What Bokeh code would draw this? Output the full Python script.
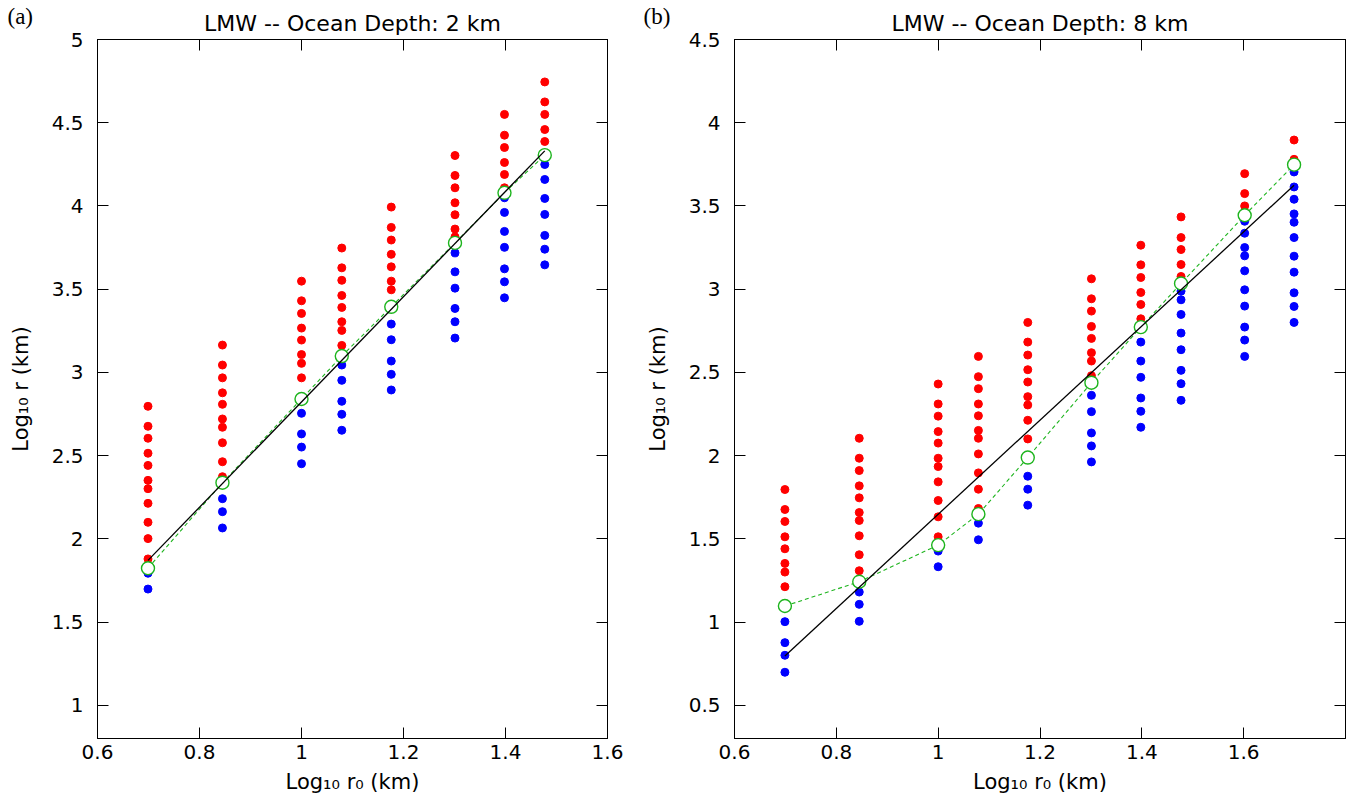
import numpy as np
from bokeh.plotting import figure
from bokeh.models import (LinearAxis, FixedTicker, CustomJSTickFormatter, Title,
                          Range1d)
from bokeh.layouts import row
from bokeh.embed import file_html
from bokeh.resources import INLINE

# ---------------- Panel (a): ocean depth 2 km ----------------
title_a = "LMW -- Ocean Depth: 2 km"
x_a = [0.699, 0.845, 1.000, 1.079, 1.176, 1.301, 1.398, 1.477]   # log10 r0
red_a = [
    [2.796, 2.676, 2.604, 2.514, 2.441, 2.351, 2.301, 2.213, 2.099, 2.001, 1.879],
    [3.164, 3.044, 2.967, 2.877, 2.808, 2.720, 2.670, 2.577, 2.463, 2.373],
    [3.548, 3.430, 3.354, 3.266, 3.194, 3.107, 3.054, 2.967],
    [3.747, 3.628, 3.553, 3.462, 3.390, 3.304, 3.252, 3.162],
    [3.993, 3.871, 3.795, 3.709, 3.634, 3.548, 3.496],
    [4.303, 4.183, 4.109, 4.019, 3.947, 3.861, 3.814],
    [4.550, 4.425, 4.351, 4.261, 4.189, 4.109],
    [4.745, 4.625, 4.550, 4.459, 4.387],
]
blue_a = [
    [1.793, 1.698],
    [2.241, 2.163, 2.065],
    [2.754, 2.630, 2.551, 2.451],
    [3.044, 2.952, 2.826, 2.748, 2.652],
    [3.290, 3.196, 3.068, 2.988, 2.894],
    [3.718, 3.604, 3.506, 3.384, 3.304, 3.206],
    [4.049, 3.961, 3.847, 3.751, 3.622, 3.544, 3.448],
    [4.249, 4.159, 4.045, 3.949, 3.823, 3.740, 3.646],
]
green_a = [1.823, 2.337, 2.840, 3.098, 3.394, 3.778, 4.079, 4.305]
fit_x_a = [0.699, 1.477]
fit_y_a = [1.870, 4.331]
xticks_a = [0.6, 0.8, 1, 1.2, 1.4, 1.6]
yticks_a = [1, 1.5, 2, 2.5, 3, 3.5, 4, 4.5, 5]
xrange_a = (0.6, 1.6)
yrange_a = (0.8, 5.0)

# ---------------- Panel (b): ocean depth 8 km ----------------
title_b = "LMW -- Ocean Depth: 8 km"
x_b = [0.699, 0.845, 1.000, 1.079, 1.176, 1.301, 1.398, 1.477, 1.602, 1.699]
red_b = [
    [1.796, 1.676, 1.604, 1.512, 1.440, 1.352, 1.300, 1.212],
    [2.104, 1.984, 1.910, 1.818, 1.746, 1.658, 1.610, 1.518, 1.404, 1.308],
    [2.430, 2.310, 2.237, 2.144, 2.075, 1.984, 1.934, 1.842, 1.730, 1.632, 1.512],
    [2.596, 2.474, 2.402, 2.310, 2.239, 2.151, 2.104, 2.010, 1.896, 1.798, 1.682],
    [2.800, 2.682, 2.604, 2.516, 2.442, 2.354, 2.304, 2.212, 2.100],
    [3.062, 2.942, 2.868, 2.776, 2.704, 2.618, 2.568, 2.480],
    [3.264, 3.146, 3.070, 2.980, 2.908, 2.822],
    [3.434, 3.310, 3.238, 3.148, 3.076],
    [3.694, 3.574, 3.500],
    [3.896, 3.780],
]
blue_b = [
    [1.002, 0.876, 0.800, 0.698],
    [1.180, 1.106, 1.004],
    [1.426, 1.332],
    [1.594, 1.494],
    [1.876, 1.798, 1.702],
    [2.362, 2.264, 2.136, 2.058, 1.962],
    [2.682, 2.568, 2.470, 2.346, 2.266, 2.170],
    [2.988, 2.936, 2.848, 2.736, 2.636, 2.512, 2.432, 2.332],
    [3.408, 3.336, 3.250, 3.200, 3.110, 2.996, 2.898, 2.772, 2.694, 2.596],
    [3.704, 3.614, 3.540, 3.452, 3.402, 3.310, 3.198, 3.102, 2.978, 2.896, 2.800],
]
green_b = [1.096, 1.242, 1.462, 1.648, 1.988, 2.438, 2.772, 3.034, 3.444, 3.748]
fit_x_b = [0.699, 1.699]
fit_y_b = [0.796, 3.624]
xticks_b = [0.6, 0.8, 1, 1.2, 1.4, 1.6]
yticks_b = [0.5, 1, 1.5, 2, 2.5, 3, 3.5, 4, 4.5]
xrange_b = (0.6, 1.8)
yrange_b = (0.3, 4.5)

x_label = "Log\u2081\u2080 r\u2080 (km)"
y_label = "Log\u2081\u2080 r (km)"

RED = "#ff0000"
BLUE = "#0000ff"
GREEN = "#1db41d"
FONT = "DejaVu Sans"


def flatten(xs, cols):
    fx, fy = [], []
    for x, col in zip(xs, cols):
        for v in col:
            fx.append(x)
            fy.append(v)
    return fx, fy


def style_axis(ax, ticks, labels=True):
    ax.ticker = FixedTicker(ticks=ticks)
    ax.major_tick_in = 11
    ax.major_tick_out = 0
    ax.minor_tick_line_color = None
    ax.axis_line_color = "black"
    ax.axis_line_width = 1
    ax.major_tick_line_color = "black"
    ax.major_label_text_font = FONT
    ax.major_label_text_font_size = "20px"
    ax.major_label_text_color = "black"
    if labels:
        ax.formatter = CustomJSTickFormatter(code="return String(tick);")
    else:
        ax.formatter = CustomJSTickFormatter(code="return '';")
        ax.major_label_standoff = 0


def make_panel(letter, title, xs, red, blue, green, fx, fy, xr, yr, xticks, yticks,
               width, height, bl, br, bt, bb, letter_x):
    p = figure(width=width, height=height, x_range=Range1d(*xr), y_range=Range1d(*yr),
               output_backend="svg", toolbar_location=None,
               min_border_left=bl, min_border_right=br, min_border_top=bt, min_border_bottom=bb)
    p.xgrid.visible = False
    p.ygrid.visible = False
    p.outline_line_color = "black"
    p.background_fill_color = "white"
    p.border_fill_color = "white"

    bottom = p.below[0]
    left = p.left[0]
    style_axis(bottom, xticks)
    style_axis(left, yticks)
    bottom.major_label_standoff = 6
    left.major_label_standoff = 14
    bottom.axis_label = x_label
    left.axis_label = y_label
    for ax in (bottom, left):
        ax.axis_label_text_font = FONT
        ax.axis_label_text_font_size = "21px"
        ax.axis_label_text_font_style = "normal"
        ax.axis_label_text_color = "black"
    bottom.axis_label_standoff = 8
    left.axis_label_standoff = 16

    top = LinearAxis()
    style_axis(top, xticks, labels=False)
    p.add_layout(top, "above")
    right = LinearAxis()
    style_axis(right, yticks, labels=False)
    p.add_layout(right, "right")

    # main heading, just above the top axis
    p.add_layout(Title(text=title, align="center", text_font=FONT, text_font_size="22px",
                       text_font_style="normal", text_color="black", standoff=7), "above")

    # panel letter: the plot's own (outermost) title, pulled down to the heading's row
    p.title.text = letter
    p.title.align = "left"
    p.title.offset = letter_x - bl
    p.title.text_font = "Liberation Serif"
    p.title.text_font_size = "23px"
    p.title.text_font_style = "normal"
    p.title.text_color = "black"
    p.title.vertical_align = "bottom"
    p.title.standoff = -46

    rx, ry = flatten(xs, red)
    bx, by = flatten(xs, blue)
    p.scatter(rx, ry, size=8, color=RED, line_color=RED)
    p.scatter(bx, by, size=8, color=BLUE, line_color=BLUE)
    p.line(xs, green, line_color=GREEN, line_width=1.1, line_dash="4 3")
    p.scatter(xs, green, size=13, fill_color="white", line_color=GREEN, line_width=1.4)
    p.line(fx, fy, line_color="black", line_width=1.3)
    return p


pa = make_panel("(a)", title_a, x_a, red_a, blue_a, green_a, fit_x_a, fit_y_a,
                xrange_a, yrange_a, xticks_a, yticks_a,
                width=640, height=800, bl=97, br=33, bt=39, bb=62, letter_x=7)
pb = make_panel("(b)", title_b, x_b, red_b, blue_b, green_b, fit_x_b, fit_y_b,
                xrange_b, yrange_b, xticks_b, yticks_b,
                width=712, height=800, bl=94, br=7, bt=39, bb=62, letter_x=3)

layout = row(pa, pb)
open("out.html", "w").write(file_html(layout, INLINE))
